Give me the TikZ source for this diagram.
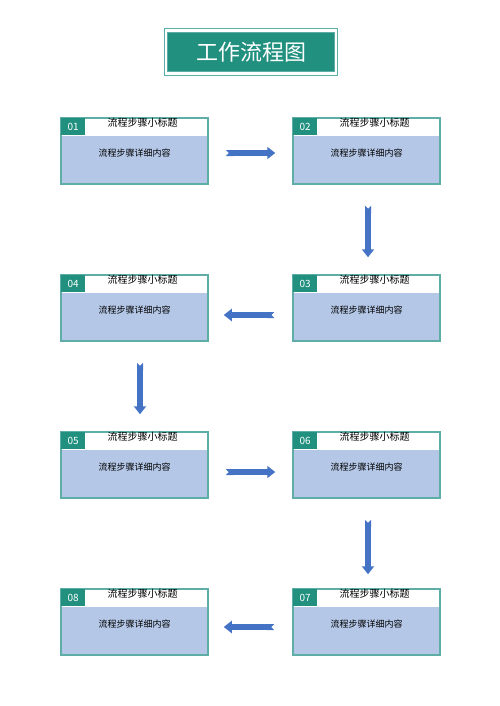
\documentclass[tikz,border=0pt]{standalone}
\usepackage{fontspec}
\setmainfont{Noto Sans CJK SC}
\usepackage{xcolor}
\usepackage{tikz}
\usetikzlibrary{arrows.meta, calc}

\definecolor{titlegreen}{HTML}{21907F}
\definecolor{boxline}{HTML}{5EADA7}
\definecolor{stepblue}{HTML}{B4C7E7}
\definecolor{arrowblue}{HTML}{4472C4}

\tikzset{
  stepbox/.style={draw=boxline, line width=1.5pt, minimum width=147pt, minimum height=66pt, inner sep=0pt,
    path picture={\fill[stepblue] (path picture bounding box.south west) rectangle ([yshift=-18pt]path picture bounding box.north east);}},
  tab/.style={fill=titlegreen, text=white, minimum width=24pt, minimum height=17pt, inner sep=0pt, font=\fontsize{10}{10}\selectfont},
  subtitle/.style={font=\fontsize{10}{10}\selectfont, inner sep=0pt},
  detail/.style={font=\fontsize{9}{9}\selectfont, inner sep=0pt},
  blockarrow/.style={draw=arrowblue, line width=6pt, {Triangle Cap[reversed]}-{Triangle[width=12pt,length=8pt]}}
}

\begin{document}
\begin{tikzpicture}[x=1pt, y=-1pt]
\useasboundingbox (0,0) rectangle (500,706);
% title
\node (title) [fill=titlegreen, draw=boxline, double=white, double distance=2.5pt, line width=0.8pt,
  minimum width=170pt, minimum height=43pt, text=white, font=\fontsize{22}{22}\selectfont] at (251,52) {工作流程图};
% steps
\foreach \n/\x/\y in {01/134.5/151, 02/366.5/151, 03/366.5/308, 04/134.5/308,
                      05/134.5/465, 06/366.5/465, 07/366.5/622, 08/134.5/622} {
  \node (b\n) [stepbox] at (\x,\y) {};
  \node (t\n) [tab, anchor=north west] at ([shift={(0.75pt,-0.75pt)}]b\n.north west) {\n};
  \node (s\n) [subtitle] at ([shift={(8pt,-5.5pt)}]b\n.north) {流程步骤小标题};
  \node (d\n) [detail] at ([yshift=-2.5pt]b\n.center) {流程步骤详细内容};
}
% arrows
\draw[blockarrow] ($(b01.east)+(17,2)$) -- ($(b02.west)+(-17,2)$);
\draw[blockarrow] ($(b02.south)+(1.5,21)$) -- ($(b03.north)+(1.5,-17)$);
\draw[blockarrow] ($(b03.west)+(-18,7)$) -- ($(b04.east)+(15,7)$);
\draw[blockarrow] ($(b04.south)+(5.5,21)$) -- ($(b05.north)+(5.5,-17)$);
\draw[blockarrow] ($(b05.east)+(17,7)$) -- ($(b06.west)+(-17,7)$);
\draw[blockarrow] ($(b06.south)+(1.5,21)$) -- ($(b07.north)+(1.5,-14)$);
\draw[blockarrow] ($(b07.west)+(-18,5)$) -- ($(b08.east)+(15,5)$);
\end{tikzpicture}
\end{document}
